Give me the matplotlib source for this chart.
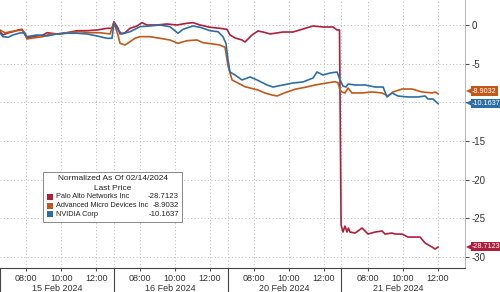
#!/usr/bin/env python3
#
# Normalized intraday price: PANW / AMD / NVDA, 15-21 Feb 2024
#

import matplotlib
matplotlib.use('Agg')
import matplotlib.pyplot as plt
import matplotlib.transforms as mtransforms

plt.rcParams['font.family'] = ['Liberation Sans', 'DejaVu Sans']

# trading-time axis: hours since 06:30 (open) of 15 Feb, 6.5 h per session
session = 6.5
days = ['15 Feb 2024', '16 Feb 2024', '20 Feb 2024', '21 Feb 2024']
hour_ticks = [8, 10, 12]

panw_t = [0, 0.17, 0.46, 0.74, 1.03, 1.26, 1.43, 1.54, 1.89, 2.46, 2.69, 3.26, 3.83, 4.4, 4.97,
          5.54, 6.11, 6.4, 6.51, 6.74, 6.86, 7.14, 7.43, 7.83, 8.11, 8.4, 8.97, 9.54, 10.11,
          10.69, 11.03, 11.43, 12.0, 12.57, 12.97, 13.14, 13.43, 13.83, 14.0, 14.4, 14.74,
          15.03, 15.43, 15.83, 16.17, 16.74, 17.31, 17.89, 18.46, 19.03, 19.26, 19.4, 19.49,
          19.6, 19.71, 19.83, 19.91, 20.0, 20.29, 20.69, 21.03, 21.43, 21.83, 22.0, 22.4,
          22.57, 22.97, 23.31, 23.71, 24.0, 24.29, 24.69, 24.86, 25.03]
panw_v = [-0.87, -1.29, -1.03, -0.87, -0.65, -0.56, -1.29, -1.68, -1.51, -1.29, -1.0, -1.16,
          -1.0, -0.74, -0.74, -0.65, -0.43, -0.43, 0.43, -0.39, -1.16, -1.0, -0.43, -0.13, 0.3,
          0.0, 0.0, 0.13, 0.0, 0.22, 0.3, 0.0, -0.3, -0.43, -0.56, -1.29, -1.68, -1.94, -2.2,
          -1.29, -0.78, -0.91, -1.16, -1.03, -0.91, -0.91, -0.52, -0.13, -0.26, -0.26, -0.65,
          -0.65, -25.86, -26.77, -26.0, -26.77, -26.25, -26.77, -26.9, -26.25, -27.03, -26.77,
          -26.64, -27.03, -26.9, -27.03, -27.03, -27.42, -27.42, -27.42, -28.19, -28.71,
          -28.97, -28.71]

amd_t = [0, 0.29, 0.57, 0.97, 1.26, 1.43, 1.54, 1.89, 2.46, 2.86, 3.43, 3.83, 4.57, 5.14,
         5.71, 6.29, 6.51, 6.74, 6.86, 7.14, 7.43, 7.71, 8.0, 8.57, 9.14, 9.71, 10.17, 10.69,
         11.26, 11.6, 12.17, 12.57, 12.86, 13.03, 13.26, 14.0, 14.74, 15.14, 15.54, 15.83,
         16.29, 16.86, 17.43, 18.0, 18.57, 19.14, 19.31, 19.43, 19.54, 19.71, 19.89, 20.11,
         20.69, 21.26, 21.83, 22.17, 22.46, 22.97, 23.54, 24.11, 24.69, 24.86, 25.03]
amd_v = [-0.65, -1.03, -0.87, -0.74, -0.65, -1.03, -1.81, -1.68, -1.51, -1.16, -1.16, -1.0,
         -0.87, -1.0, -1.0, -1.16, 0.3, -1.29, -2.37, -2.59, -2.16, -1.72, -1.51, -1.51,
         -1.72, -1.94, -2.37, -2.03, -1.94, -2.29, -2.46, -2.59, -2.88, -5.3, -7.11, -7.98,
         -8.41, -8.79, -9.05, -9.18, -8.75, -8.31, -8.06, -7.76, -7.54, -7.33, -7.46, -8.41,
         -8.66, -8.79, -8.15, -8.79, -8.79, -8.66, -8.79, -9.18, -8.66, -8.28, -8.28, -8.66,
         -8.79, -8.66, -8.9032]

nvda_t = [0, 0.17, 0.46, 0.74, 1.14, 1.37, 1.54, 2.11, 2.69, 3.26, 3.83, 4.4, 4.97, 5.54,
          6.11, 6.4, 6.51, 6.74, 6.97, 7.43, 8.0, 8.57, 9.14, 9.71, 10.17, 10.46, 11.03, 11.43,
          12.0, 12.46, 12.74, 12.91, 13.03, 13.14, 13.43, 13.83, 14.29, 14.69, 15.26, 15.6,
          16.17, 16.74, 17.31, 17.89, 18.11, 18.46, 18.86, 19.26, 19.43, 19.6, 19.77, 19.89,
          20.29, 20.86, 21.43, 21.89, 22.11, 22.4, 22.74, 23.31, 23.89, 24.29, 24.46, 24.74,
          25.03]
nvda_v = [-1.03, -1.51, -1.59, -1.29, -1.03, -1.03, -1.51, -1.29, -1.42, -1.16, -1.07, -1.07,
          -1.16, -1.42, -1.72, -1.72, 0.22, -0.65, -1.16, -0.87, -0.22, -0.13, 0.0, -0.22,
          -1.07, -0.56, -0.13, -0.3, -0.74, -0.87, -1.51, -2.37, -4.53, -6.08, -6.47, -7.11,
          -6.72, -7.11, -7.76, -8.02, -7.76, -7.5, -7.37, -6.85, -6.08, -6.47, -6.21, -6.08,
          -7.11, -7.89, -8.02, -7.63, -7.76, -7.76, -8.02, -8.02, -9.31, -8.79, -9.18, -9.31,
          -9.31, -9.18, -9.57, -9.57, -10.1637]

names = ['Palo Alto Networks Inc', 'Advanced Micro Devices Inc', 'NVIDIA Corp']
last = ['-28.7123', '-8.9032', '-10.1637']
colors = ['#b01e3c', '#c0591a', '#2d6fa5']

fig = plt.figure(figsize=(5, 2.92), dpi=100)
ax = fig.add_axes([0, 24 / 292, 465 / 500, 268 / 292])

series = [(panw_t, panw_v), (amd_t, amd_v), (nvda_t, nvda_v)]
for (t, v), c in zip(series, colors):
    ax.plot(t, v, color=c, linewidth=1.2)

ax.set_xlim(0, 26.57)
ax.set_ylim(-31.42, 3.23)

# x ticks: hours inside each session
xt = []
xl = []
for d in range(len(days)):
    for h in hour_ticks:
        xt.append(d * session + (h - 6.5))
        xl.append('%02d:00' % h)
ax.set_xticks(xt)
ax.set_xticklabels(xl, fontsize=6.5, color='#333333')
ax.tick_params(axis='x', length=2, pad=2, color='#555555')

# the -10 label sits under the NVDA tag in the original
ax.yaxis.tick_right()
ax.set_yticks([0, -5, -10, -15, -20, -25, -30])
ax.set_yticklabels(['0', '-5', '', '-15', '-20', '-25', '-30'], fontsize=7, color='#333333')
ax.tick_params(axis='y', length=3, pad=2, color='#555555')

for s in ['top', 'left']:
    ax.spines[s].set_visible(False)
ax.spines['right'].set_color('#aaaaaa')
ax.spines['right'].set_linewidth(0.6)
ax.spines['bottom'].set_color('#444444')
ax.spines['bottom'].set_linewidth(0.8)

grid_kw = dict(color='#b8b8b8', linewidth=0.7, linestyle=(0, (1, 2.5)))
for y in [0, -5, -10, -15, -20, -25, -30]:
    ax.axhline(y, zorder=0, **grid_kw)
for x in xt:
    ax.axvline(x, zorder=0, **grid_kw)

# day separators and labels
trans = mtransforms.blended_transform_factory(ax.transData, ax.transAxes)
for d in range(len(days)):
    x0 = d * session
    if d > 0:
        ax.axvline(x0, zorder=0, **grid_kw)
    ax.plot([x0, x0], [0, -0.09], transform=trans, color='#444444', linewidth=0.8,
            clip_on=False)
    ax.text(x0 + session / 2, -0.075, days[d], transform=trans, ha='center', va='center',
            fontsize=6.5, color='#333333')

# last-value tags on the right
ytrans = mtransforms.blended_transform_factory(ax.transAxes, ax.transData)
tag_y = [-28.65, -8.55, -10.15]
for lbl, c, y in zip(last, colors, tag_y):
    ax.plot([1.008], [y], marker='<', markersize=5, color=c, transform=ytrans,
            clip_on=False, markeredgewidth=0)
    ax.text(1.015, y, lbl, transform=ytrans, ha='left', va='center', fontsize=5.2,
            color='white', clip_on=False,
            bbox=dict(boxstyle='square,pad=0.18', facecolor=c, edgecolor='none'))

# legend box
lx0, ly0 = 43 / 465, 1 - 222 / 268
lw, lh = 139 / 465, 50 / 268
ax.add_patch(plt.Rectangle((lx0, ly0), lw, lh, transform=ax.transAxes, facecolor='white',
                           edgecolor='#888888', linewidth=0.7, zorder=5))
ax.text(lx0 + lw / 2, 1 - 179 / 268, 'Normalized As Of 02/14/2024', transform=ax.transAxes,
        ha='center', va='center', fontsize=6, color='#222222', zorder=6)
ax.text(lx0 + lw / 2, 1 - 188 / 268, 'Last Price', transform=ax.transAxes,
        ha='center', va='center', fontsize=6, color='#222222', zorder=6)
for i, (n, v, c) in enumerate(zip(names, last, colors)):
    yy = 1 - (197 + i * 8.5) / 268
    ax.add_patch(plt.Rectangle((47 / 465, yy - 3 / 268), 6 / 465, 6 / 268,
                               transform=ax.transAxes, facecolor=c, edgecolor='none',
                               zorder=6))
    ax.text(56 / 465, yy, n, transform=ax.transAxes, ha='left', va='center', fontsize=5.3,
            color='#222222', zorder=6)
    ax.text(179 / 465, yy, v, transform=ax.transAxes, ha='right', va='center', fontsize=5.6,
            color='#222222', zorder=6)

fig.savefig('out.png', dpi=100)
